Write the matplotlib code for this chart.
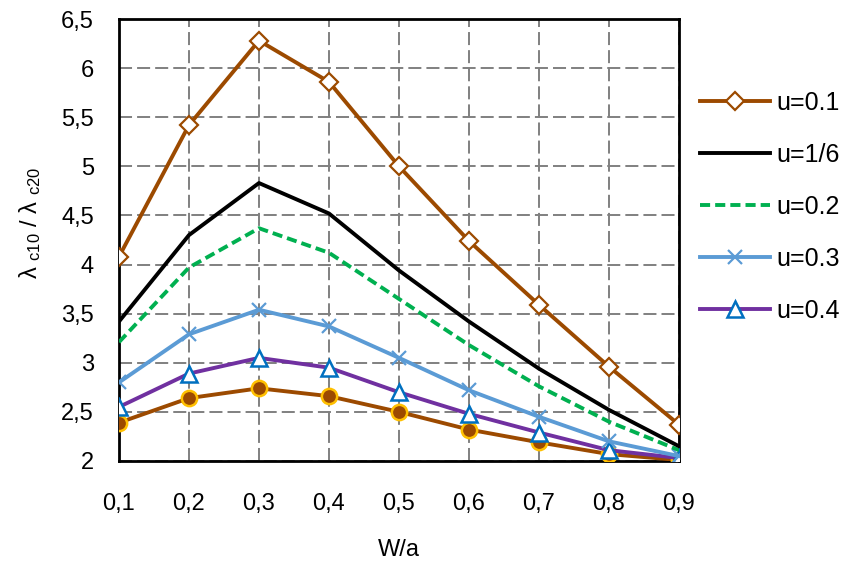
import matplotlib
matplotlib.use("Agg")
import matplotlib.pyplot as plt
from matplotlib.ticker import FuncFormatter

plt.rcParams['font.family'] = ['Liberation Sans', 'DejaVu Sans']
plt.rcParams['mathtext.fontset'] = 'custom'
plt.rcParams['mathtext.rm'] = 'Liberation Sans'
plt.rcParams['mathtext.it'] = 'Liberation Sans'

# data
w_a = [0.1, 0.2, 0.3, 0.4, 0.5, 0.6, 0.7, 0.8, 0.9]
u_01 = [4.08, 5.42, 6.28, 5.86, 5.00, 4.24, 3.59, 2.96, 2.37]
u_16 = [3.42, 4.30, 4.83, 4.52, 3.94, 3.42, 2.94, 2.52, 2.15]
u_02 = [3.21, 3.97, 4.37, 4.12, 3.65, 3.18, 2.76, 2.40, 2.11]
u_03 = [2.80, 3.29, 3.54, 3.37, 3.05, 2.72, 2.45, 2.20, 2.05]
u_04 = [2.55, 2.89, 3.05, 2.95, 2.70, 2.48, 2.29, 2.11, 2.03]
u_05 = [2.39, 2.64, 2.74, 2.66, 2.50, 2.32, 2.19, 2.07, 2.01]

fig = plt.figure(figsize=(8.48, 5.63), dpi=100)
ax = fig.add_axes([0.1403, 0.1812, 0.6604, 0.7850])

lw = 2.8
ax.plot(w_a, u_05, color='#9C4A00', lw=lw, marker='o', ms=11,
        mfc='#9C4A00', mec='#FFC000', mew=1.8, label='_nolegend_', zorder=3)
ax.plot(w_a, u_04, color='#7030A0', lw=lw, marker='^', ms=11,
        mfc='white', mec='#0070C0', mew=1.8, label='u=0.4', zorder=4)
ax.plot(w_a, u_03, color='#5B9BD5', lw=lw, marker='x', ms=10,
        mec='#5B9BD5', mew=1.6, label='u=0.3', zorder=5)
ax.plot(w_a, u_02, color='#00B050', lw=lw, ls=(0, (2.6, 1.3)), label='u=0.2', zorder=6)
ax.plot(w_a, u_16, color='black', lw=lw, label='u=1/6', zorder=7)
ax.plot(w_a, u_01, color='#9C4A00', lw=lw, marker='D', ms=9,
        mfc='white', mec='#9C4A00', mew=1.6, label='u=0.1', zorder=8)

ax.set_xlim(0.1, 0.9)
ax.set_ylim(2, 6.5)
ax.set_xticks(w_a)
ax.set_yticks([2, 2.5, 3, 3.5, 4, 4.5, 5, 5.5, 6, 6.5])
fmt = FuncFormatter(lambda v, p: ('%g' % round(v, 2)).replace('.', ','))
ax.xaxis.set_major_formatter(fmt)
ax.yaxis.set_major_formatter(fmt)
ax.tick_params(length=0, labelsize=17)
ax.tick_params(axis='x', pad=23)
ax.tick_params(axis='y', pad=18)
ax.grid(True, color='#808080', ls=(0, (6.7, 2.6)), lw=1.4)
for s in ax.spines.values():
    s.set_linewidth(2)
    s.set_color('black')
ax.set_axisbelow(True)

ax.set_xlabel('W/a', fontsize=17, labelpad=17)
fig.text(30 / 848, 1 - 223 / 563, r'$\lambda$ $_{c10}$ / $\lambda$ $_{c20}$',
         fontsize=17, rotation=90, ha='center', va='center')

handles, labels = ax.get_legend_handles_labels()
order = [labels.index(l) for l in ['u=0.1', 'u=1/6', 'u=0.2', 'u=0.3', 'u=0.4']]
ax.legend([handles[i] for i in order], [labels[i] for i in order],
          loc='upper left', bbox_to_anchor=(1.0375, 0.838), frameon=False,
          borderpad=0, borderaxespad=0,
          fontsize=18, handlelength=2.8, handletextpad=0.25, labelspacing=1.12)

fig.savefig('out.png', dpi=100)
